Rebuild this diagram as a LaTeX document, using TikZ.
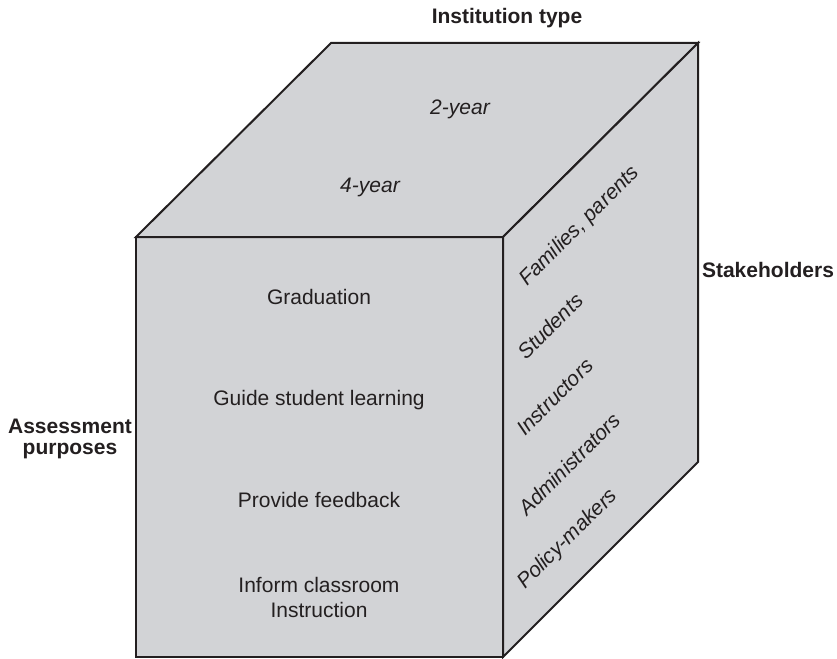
\documentclass[tikz,border=0pt]{standalone}
\usepackage{fontspec}
\setmainfont{Liberation Sans}
\begin{document}
\definecolor{facegray}{RGB}{210,211,214}
\definecolor{inkgray}{RGB}{35,31,32}
\begin{tikzpicture}[x=1pt,y=-1pt,
  face/.style={fill=facegray,draw=inkgray,line width=2pt,line join=miter},
  axislabel/.style={font=\fontsize{21}{21}\selectfont\bfseries,text=inkgray,inner sep=0pt,align=center},
  cell/.style={font=\fontsize{21}{25}\selectfont,text=inkgray,inner sep=0pt,align=center},
  slanted/.style={font=\fontsize{21}{25}\selectfont\itshape,text=inkgray,inner sep=0pt},
  sidecell/.style={slanted,rotate=45,anchor=base west}]
\useasboundingbox (0,0) rectangle (837,658);
% cube corners
\coordinate (ftl) at (136,237);
\coordinate (ftr) at (503,237);
\coordinate (fbr) at (503,657);
\coordinate (fbl) at (136,657);
\coordinate (btl) at (331,43);
\coordinate (btr) at (698,43);
\coordinate (bbr) at (698,462);
% faces
\draw[face] (ftl) -- (ftr) -- (fbr) -- (fbl) -- cycle;
\draw[face] (ftl) -- (btl) -- (btr) -- (ftr) -- cycle;
\draw[face] (ftr) -- (btr) -- (bbr) -- (fbr) -- cycle;
% axis titles
\node[axislabel,anchor=base] (inst) at (507,24) {Institution type};
\node[axislabel,anchor=base] (stake) at (768,277) {Stakeholders};
\node[axislabel,font=\fontsize{21}{21}\selectfont\bfseries,anchor=center] (purp) at (70,439) {Assessment\\purposes};
% top face: institution types
\node[slanted,anchor=base] (two) at (460,114) {2-year};
\node[slanted,anchor=base] (four) at (370,192) {4-year};
% front face: purposes
\node[cell,anchor=base] (grad) at (319,304) {Graduation};
\node[cell,anchor=base] (guide) at (319,405) {Guide student learning};
\node[cell,anchor=base] (feed) at (319,507) {Provide feedback};
\node[cell,anchor=center] (inform) at (319,597.5) {Inform classroom\\Instruction};
% right face: stakeholders
\node[sidecell] (fam) at (527,287) {Families, parents};
\node[sidecell] (stud) at (526,361) {Students};
\node[sidecell] (instr) at (525,437) {Instructors};
\node[sidecell] (admin) at (527,517) {Administrators};
\node[sidecell] (policy) at (525,590) {Policy-makers};
\end{tikzpicture}
\end{document}
